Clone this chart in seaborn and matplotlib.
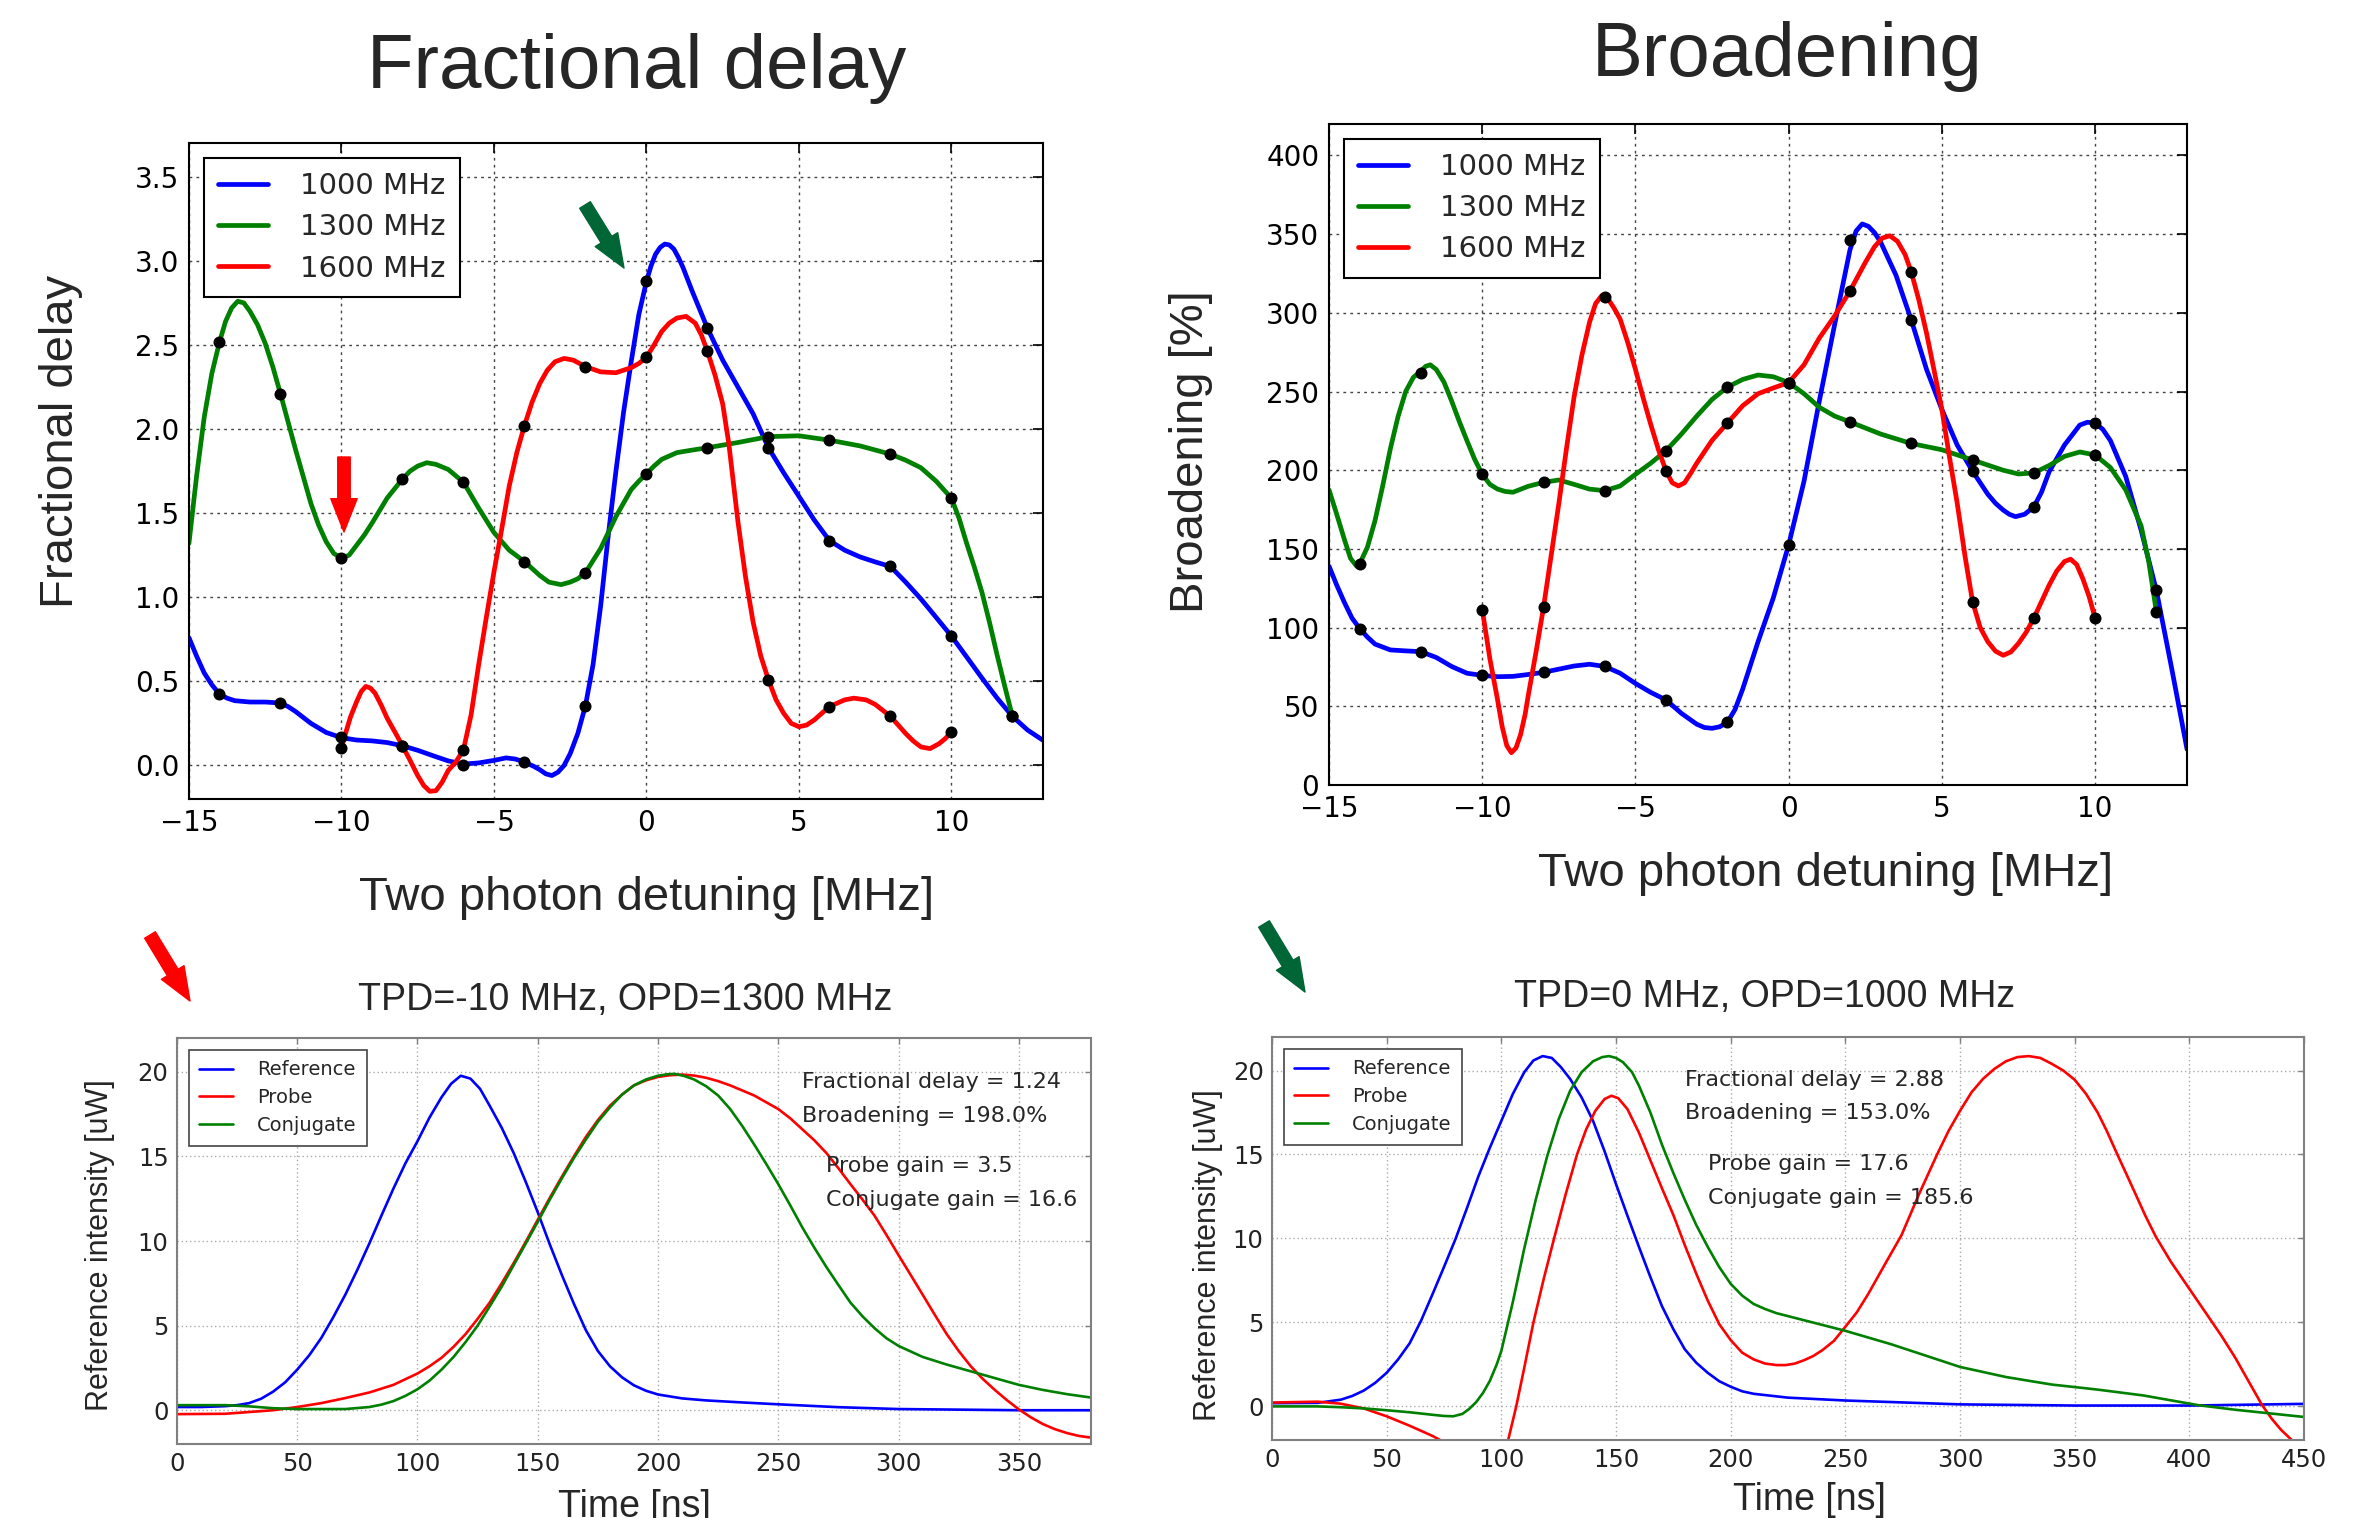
import matplotlib
matplotlib.use("Agg")
import matplotlib.pyplot as plt
import seaborn as sns

# ---- top panels: dots measured at even detunings [MHz]
tpd_even = [-14, -12, -10, -8, -6, -4, -2, 0, 2, 4, 6, 8, 10, 12]
tpd_red = [-10, -8, -6, -4, -2, 0, 2, 4, 6, 8, 10]

fd_dots_1000 = [0.424, 0.371, 0.17, 0.117, 0.005, 0.019, 0.355, 2.878, 2.60, 1.889, 1.337, 1.183, 0.769, 0.292]
fd_dots_1300 = [2.517, 2.21, 1.233, 1.703, 1.684, 1.212, 1.146, 1.735, 1.889, 1.955, 1.934, 1.851, 1.589, 0.292]
fd_dots_1600 = [0.106, 0.117, 0.093, 2.021, 2.371, 2.427, 2.462, 0.509, 0.350, 0.292, 0.199]

br_dots_1000 = [99.4, 84.7, 69.6, 71.6, 75.3, 54, 39.8, 152.6, 346, 295.5, 199.4, 176.7, 230, 123.6]
br_dots_1300 = [140.6, 262, 197.4, 192.3, 187, 212.5, 252.8, 255.7, 230.7, 217, 206.5, 198.3, 209.7, 110]
br_dots_1600 = [111.4, 113, 310.2, 199.4, 230, 255.7, 313.9, 326, 116.5, 106, 106]

# smooth curves, (detuning, value)
fd_curve_1000 = [(-15, 0.76), (-14.75, 0.65), (-14.5, 0.55), (-14.25, 0.48), (-14, 0.424), (-13.75, 0.40),
                 (-13.5, 0.385), (-13, 0.377), (-12.5, 0.377), (-12, 0.371), (-11.75, 0.35), (-11.5, 0.32),
                 (-11, 0.25), (-10.5, 0.196), (-10, 0.165), (-9.5, 0.151), (-9, 0.146), (-8.5, 0.136),
                 (-8, 0.117), (-7.5, 0.09), (-7, 0.058), (-6.5, 0.027), (-6, 0.008), (-5.5, 0.015),
                 (-5, 0.03), (-4.6, 0.045), (-4.3, 0.038), (-4, 0.02), (-3.7, -0.005), (-3.5, -0.025),
                 (-3.3, -0.05), (-3.1, -0.06), (-2.9, -0.04), (-2.7, 0.0), (-2.5, 0.07), (-2.25, 0.19),
                 (-2, 0.355), (-1.75, 0.6), (-1.5, 0.95), (-1.25, 1.37), (-1, 1.75), (-0.75, 2.1),
                 (-0.5, 2.4), (-0.25, 2.68), (0, 2.878), (0.15, 2.97), (0.3, 3.04), (0.45, 3.08),
                 (0.6, 3.10), (0.75, 3.095), (0.9, 3.07), (1.05, 3.02), (1.2, 2.96), (1.5, 2.82),
                 (1.75, 2.71), (2, 2.60), (2.5, 2.41), (3, 2.25), (3.5, 2.09), (4, 1.889), (4.5, 1.74),
                 (5, 1.6), (5.5, 1.46), (6, 1.337), (6.5, 1.28), (7, 1.24), (7.5, 1.21), (8, 1.183),
                 (8.5, 1.09), (9, 0.99), (9.5, 0.88), (10, 0.769), (10.5, 0.645), (11, 0.52),
                 (11.5, 0.40), (12, 0.292), (12.5, 0.21), (13, 0.15)]
fd_curve_1300 = [(-15, 1.32), (-14.75, 1.72), (-14.5, 2.07), (-14.25, 2.33), (-14, 2.517), (-13.8, 2.64),
                 (-13.6, 2.72), (-13.4, 2.76), (-13.2, 2.75), (-13, 2.70), (-12.75, 2.62), (-12.5, 2.51),
                 (-12.25, 2.37), (-12, 2.21), (-11.5, 1.875), (-11, 1.557), (-10.75, 1.43), (-10.5, 1.33),
                 (-10.25, 1.26), (-10, 1.233), (-9.75, 1.25), (-9.5, 1.31), (-9.25, 1.37), (-9, 1.44),
                 (-8.5, 1.59), (-8, 1.703), (-7.75, 1.75), (-7.5, 1.78), (-7.2, 1.80), (-6.9, 1.79),
                 (-6.5, 1.76), (-6, 1.684), (-5.5, 1.53), (-5, 1.385), (-4.5, 1.28), (-4, 1.212),
                 (-3.5, 1.13), (-3.2, 1.09), (-2.8, 1.075), (-2.5, 1.09), (-2.25, 1.11), (-2, 1.146),
                 (-1.5, 1.29), (-1, 1.48), (-0.5, 1.64), (-0.25, 1.69), (0, 1.735), (0.25, 1.78),
                 (0.5, 1.82), (1, 1.86), (1.5, 1.875), (2, 1.889), (3, 1.92), (4, 1.955), (5, 1.96),
                 (6, 1.934), (7, 1.90), (8, 1.851), (8.5, 1.815), (9, 1.77), (9.5, 1.69), (10, 1.589),
                 (10.25, 1.47), (10.5, 1.32), (10.75, 1.18), (11, 1.03), (11.25, 0.85), (11.5, 0.655),
                 (11.75, 0.47), (12, 0.292)]
fd_curve_1600 = [(-10, 0.106), (-9.85, 0.2), (-9.7, 0.29), (-9.5, 0.38), (-9.35, 0.44), (-9.2, 0.47),
                 (-9.05, 0.46), (-8.9, 0.43), (-8.7, 0.36), (-8.5, 0.28), (-8.25, 0.2), (-8, 0.117),
                 (-7.75, 0.03), (-7.5, -0.06), (-7.3, -0.12), (-7.1, -0.154), (-6.9, -0.15), (-6.7, -0.1),
                 (-6.5, -0.03), (-6.25, 0.02), (-6, 0.093), (-5.75, 0.3), (-5.5, 0.6), (-5.25, 0.88),
                 (-5, 1.15), (-4.75, 1.4), (-4.5, 1.66), (-4.25, 1.86), (-4, 2.021), (-3.75, 2.16),
                 (-3.5, 2.27), (-3.25, 2.35), (-3, 2.40), (-2.7, 2.42), (-2.4, 2.41), (-2, 2.371),
                 (-1.5, 2.34), (-1, 2.335), (-0.5, 2.365), (-0.25, 2.39), (0, 2.427), (0.25, 2.5),
                 (0.5, 2.58), (0.75, 2.63), (1, 2.66), (1.3, 2.67), (1.6, 2.63), (1.8, 2.56), (2, 2.462),
                 (2.25, 2.32), (2.5, 2.15), (2.7, 1.915), (3, 1.45), (3.25, 1.12), (3.5, 0.85),
                 (3.75, 0.65), (4, 0.509), (4.25, 0.39), (4.5, 0.31), (4.75, 0.25), (5, 0.23),
                 (5.25, 0.24), (5.5, 0.27), (6, 0.35), (6.5, 0.39), (6.8, 0.40), (7.2, 0.39),
                 (7.5, 0.363), (8, 0.292), (8.5, 0.19), (8.75, 0.145), (9, 0.11), (9.3, 0.10),
                 (9.6, 0.13), (9.8, 0.16), (10, 0.199)]

br_curve_1000 = [(-15, 139), (-14.75, 127), (-14.5, 116), (-14.25, 106), (-14, 99.4), (-13.75, 94),
                 (-13.5, 89.5), (-13, 85.8), (-12.5, 85.2), (-12, 84.7), (-11.5, 81), (-11, 75.3),
                 (-10.5, 71), (-10, 69.6), (-9.5, 68.8), (-9, 69), (-8.5, 70.2), (-8, 71.6), (-7, 75.6),
                 (-6.5, 76.7), (-6, 75.3), (-5.5, 71), (-5, 64.5), (-4.5, 58.8), (-4, 54), (-3.5, 45.5),
                 (-3, 38.6), (-2.75, 36.5), (-2.5, 36), (-2.25, 37), (-2, 39.8), (-1.75, 48), (-1.5, 61),
                 (-1, 91), (-0.5, 119), (0, 152.6), (0.5, 193), (1, 244), (1.5, 292.6), (2, 340),
                 (2.2, 352), (2.4, 356.5), (2.6, 355), (2.8, 351), (3, 345), (3.5, 324), (4, 295.5),
                 (4.5, 264), (5, 238.6), (5.5, 216), (6, 199.4), (6.5, 184.7), (6.75, 179),
                 (7, 174.7), (7.2, 172), (7.4, 170.5), (7.7, 172), (8, 176.7), (8.25, 186),
                 (8.5, 199), (9, 216), (9.5, 228.7), (9.75, 230.5), (10, 230), (10.25, 226),
                 (10.5, 218.8), (11, 196), (11.5, 162), (12, 123.6), (12.5, 74), (13, 22.7)]
br_curve_1300 = [(-15, 187.5), (-14.75, 172), (-14.5, 156), (-14.3, 144), (-14.1, 139), (-14, 140.6),
                 (-13.75, 151), (-13.5, 168), (-13.25, 190), (-13, 213.6), (-12.75, 234), (-12.5, 250),
                 (-12.25, 259), (-12, 263), (-11.85, 266), (-11.7, 267), (-11.5, 264), (-11.25, 256),
                 (-11, 244), (-10.75, 231), (-10.5, 218.8), (-10.25, 207), (-10, 197.4), (-9.75, 191),
                 (-9.5, 188), (-9.25, 186.5), (-9, 186), (-8.5, 189.8), (-8, 192.3), (-7.5, 193.8),
                 (-7, 191), (-6.5, 188), (-6, 187), (-5.5, 190), (-5, 197.4), (-4.5, 204.5),
                 (-4, 212.5), (-3.5, 223), (-3, 234.4), (-2.5, 245), (-2, 252.8), (-1.5, 257.7),
                 (-1, 260.5), (-0.5, 259.4), (0, 255.7), (0.5, 248.6), (1, 240), (1.5, 234.4),
                 (2, 230.7), (3, 223), (4, 217), (5, 213), (6, 206.5), (7, 200), (7.5, 197.6),
                 (8, 198.3), (8.5, 203), (9, 208.8), (9.5, 211.6), (10, 209.7), (10.5, 201.7),
                 (11, 187.5), (11.5, 164.8), (11.75, 142), (12, 110)]
br_curve_1600 = [(-10, 111.4), (-9.75, 80), (-9.5, 54), (-9.35, 37), (-9.2, 25), (-9.05, 20.5),
                 (-8.9, 23.5), (-8.75, 32), (-8.6, 45), (-8.5, 56.8), (-8.25, 84), (-8, 113),
                 (-7.75, 146), (-7.5, 179), (-7.25, 214), (-7, 247),
                 (-6.75, 273), (-6.5, 294), (-6.3, 306), (-6.1, 311), (-5.9, 309), (-5.7, 303),
                 (-5.5, 296), (-5.25, 281), (-5, 264), (-4.75, 246), (-4.5, 229), (-4.25, 213),
                 (-4, 199.4), (-3.8, 192), (-3.6, 190), (-3.4, 192), (-3.2, 198), (-3, 204.5),
                 (-2.5, 219), (-2, 230), (-1.5, 241), (-1, 248.6), (-0.5, 252.3), (0, 255.7), (0.5, 267),
                 (1, 284), (1.5, 298), (2, 313.9), (2.5, 332), (2.8, 342), (3.05, 347.5), (3.3, 349),
                 (3.55, 345.5), (3.8, 337), (4, 326), (4.25, 308), (4.5, 287), (4.75, 263), (5, 238.6),
                 (5.25, 208), (5.5, 179), (5.75, 146), (6, 116.5), (6.25, 100), (6.5, 91), (6.75, 85),
                 (7, 82.4), (7.25, 84.5), (7.5, 90), (7.75, 97), (8, 106), (8.5, 127), (8.75, 136),
                 (9, 142), (9.2, 143.5), (9.4, 140), (9.6, 131), (9.8, 120), (10, 106)]

# ---- bottom panels: pulses (time [ns], intensity [uW])
bl_reference = [(0, 0.19), (10, 0.19), (20, 0.24), (25, 0.3), (30, 0.42), (35, 0.68), (40, 1.1),
                (45, 1.65), (50, 2.4), (55, 3.25), (60, 4.27), (65, 5.5), (70, 6.83), (75, 8.3),
                (80, 9.86), (85, 11.5), (90, 13.1), (95, 14.6), (100, 15.9), (105, 17.3), (110, 18.5),
                (114, 19.3), (118, 19.77), (122, 19.6), (126, 19.0), (130, 18.0), (135, 16.7),
                (140, 15.2), (145, 13.5), (150, 11.7), (155, 9.8), (160, 8.0), (165, 6.3), (170, 4.73),
                (175, 3.5), (180, 2.6), (185, 1.95), (190, 1.47), (195, 1.15), (200, 0.93), (210, 0.7),
                (220, 0.58), (235, 0.46), (250, 0.35), (275, 0.18), (300, 0.07), (350, 0.0), (380, 0.0)]
bl_probe = [(0, -0.23), (20, -0.21), (40, 0.0), (50, 0.19), (60, 0.42), (70, 0.72), (80, 1.05),
            (90, 1.5), (100, 2.17), (105, 2.6), (110, 3.1), (115, 3.75), (120, 4.5), (125, 5.4),
            (130, 6.36), (135, 7.5), (140, 8.7), (145, 9.95), (150, 11.26), (155, 12.55), (160, 13.8),
            (165, 15.0), (170, 16.15), (175, 17.15), (180, 18.0), (185, 18.65), (190, 19.2),
            (195, 19.5), (200, 19.7), (205, 19.8), (210, 19.84), (215, 19.78), (220, 19.65),
            (225, 19.45), (230, 19.2), (235, 18.9), (240, 18.6), (245, 18.2), (250, 17.8),
            (255, 17.25), (260, 16.6), (265, 15.95), (270, 15.2), (275, 14.3), (280, 13.36),
            (285, 12.45), (290, 11.5), (295, 10.35), (300, 9.16), (305, 8.0), (310, 6.83),
            (315, 5.65), (320, 4.5), (325, 3.5), (330, 2.6), (335, 1.85), (340, 1.2), (345, 0.6),
            (350, 0.05), (355, -0.42), (360, -0.82), (365, -1.12), (370, -1.35), (375, -1.52),
            (380, -1.62)]
bl_conjugate = [(0, 0.3), (20, 0.3), (30, 0.23), (40, 0.12), (50, 0.07), (60, 0.07), (70, 0.07),
                (80, 0.19), (85, 0.33), (90, 0.54), (95, 0.85), (100, 1.24), (105, 1.75), (110, 2.4),
                (115, 3.15), (120, 4.03), (125, 5.0), (130, 6.13), (135, 7.3), (140, 8.58), (145, 9.85),
                (150, 11.14), (155, 12.45), (160, 13.7), (165, 14.9), (170, 16.0), (175, 17.05),
                (180, 17.9), (185, 18.65), (190, 19.2), (195, 19.55), (200, 19.77), (204, 19.86),
                (207, 19.88), (211, 19.75), (215, 19.55), (220, 19.15), (225, 18.6), (230, 17.8),
                (235, 16.8), (240, 15.7), (245, 14.55), (250, 13.36), (255, 12.1), (260, 10.8),
                (265, 9.6), (270, 8.46), (275, 7.4), (280, 6.36), (285, 5.55), (290, 4.85),
                (295, 4.25), (300, 3.8), (310, 3.15), (320, 2.7), (330, 2.3), (340, 1.9), (350, 1.5),
                (360, 1.2), (370, 0.95), (380, 0.75)]

br_reference = [(0, 0.19), (20, 0.21), (30, 0.4), (35, 0.62), (40, 0.94), (45, 1.4), (50, 2.0),
                (55, 2.8), (60, 3.75), (65, 5.1), (70, 6.68), (75, 8.3), (80, 9.96), (85, 11.8),
                (90, 13.7), (95, 15.4), (100, 17.0), (105, 18.6), (110, 19.9), (114, 20.6),
                (118, 20.86), (122, 20.75), (126, 20.2), (130, 19.5), (135, 18.4), (140, 17.0),
                (145, 15.2), (150, 13.24), (155, 11.35), (160, 9.5), (165, 7.7), (170, 5.98),
                (175, 4.6), (180, 3.4), (185, 2.6), (190, 2.0), (195, 1.5), (200, 1.17), (205, 0.9),
                (210, 0.75), (225, 0.52), (250, 0.35), (300, 0.12), (350, 0.05), (400, 0.05),
                (450, 0.15)]
br_probe = [(0, 0.23), (20, 0.28), (30, 0.16), (40, -0.12), (50, -0.59), (60, -1.15), (70, -1.76),
            (80, -2.5), (90, -3.4), (100, -3.4), (103, -2.0), (106.5, 0.0), (110, 2.3), (114, 5.0),
            (118.5, 7.6), (123, 10.0), (128, 12.6), (133, 15.0), (137, 16.5), (141, 17.6),
            (145, 18.3), (148, 18.5), (151, 18.35), (155, 17.7), (160, 16.3), (165, 14.65),
            (170, 13.0), (175, 11.4), (180, 9.6), (185, 7.9), (190, 6.3), (195, 4.9), (200, 3.95),
            (205, 3.2), (210, 2.8), (215, 2.55), (220, 2.46), (224, 2.46), (228, 2.55), (232, 2.75),
            (236, 3.0), (240, 3.35), (245, 3.9), (249, 4.57), (255, 5.6), (260, 6.7), (267, 8.4),
            (274.5, 10.2), (282, 12.6), (290, 15.0), (295, 16.4), (300, 17.6), (305, 18.7),
            (310, 19.5), (315, 20.1), (320, 20.55), (325, 20.8), (330, 20.86), (335, 20.75),
            (340, 20.4), (345, 20.0), (350, 19.45), (355, 18.6), (360, 17.5), (364, 16.4),
            (368.6, 15.0), (373, 13.7), (377, 12.5), (381, 11.3), (385.4, 10.1), (392, 8.6),
            (398, 7.4), (403, 6.4), (408, 5.4), (414, 4.2), (420, 2.9), (426, 1.45), (431.6, 0.1),
            (436, -0.75), (440, -1.4), (445, -2.05), (450, -2.6)]
br_conjugate = [(0, 0.0), (20, 0.0), (30, -0.05), (40, -0.12), (50, -0.23), (60, -0.35), (70, -0.5),
                (75, -0.57), (79, -0.59), (83, -0.45), (86, -0.15), (89, 0.25), (92, 0.8), (95, 1.52),
                (98, 2.5), (100, 3.3), (105, 6.2), (110, 9.4), (115, 12.3), (120, 14.9), (125, 17.1),
                (130, 18.8), (135, 19.9), (140, 20.55), (144, 20.8), (147, 20.86), (150, 20.75),
                (153, 20.5), (157, 19.9), (160, 19.1), (165, 17.5), (170, 15.6), (175, 13.9),
                (180, 12.3), (185, 10.8), (190, 9.5), (195, 8.3), (200, 7.3), (205, 6.6), (210, 6.1),
                (215, 5.8), (220, 5.55), (230, 5.2), (240, 4.85), (250, 4.5), (270, 3.7), (290, 2.8),
                (300, 2.35), (320, 1.75), (340, 1.3), (360, 1.0), (380, 0.65), (404, 0.07),
                (420, -0.2), (450, -0.63)]

bl_notes = [(260, 19.4, "Fractional delay = 1.24"), (260, 17.4, "Broadening = 198.0%"),
            (270, 14.45, "Probe gain = 3.5"), (270, 12.4, "Conjugate gain = 16.6")]
br_notes = [(180, 19.45, "Fractional delay = 2.88"), (180, 17.45, "Broadening = 153.0%"),
            (190, 14.45, "Probe gain = 17.6"), (190, 12.4, "Conjugate gain = 185.6")]

BLUE, GREEN, RED = "#0000ff", "#008000", "#ff0000"
ARROW_RED, ARROW_GREEN = "#ff0000", "#006636"
LABEL_FONT = "Liberation Sans"

sns.set_style("white")
plt.rcParams["font.family"] = ["DejaVu Sans"]
plt.rcParams["lines.solid_joinstyle"] = "round"


def unzip(pts):
    return [p[0] for p in pts], [p[1] for p in pts]


def top_panel(ax, curves, dots, ylim, yticks, ylabel, ylabel_xy, xlabel_xy):
    for label, color, pts in curves:
        x, y = unzip(pts)
        sns.lineplot(x=x, y=y, ax=ax, color=color, lw=3.4, label=label,
                     sort=False, estimator=None)
    for xs, ys in dots:
        sns.scatterplot(x=xs, y=ys, ax=ax, color="black", s=75, linewidth=0,
                        legend=False, zorder=5)
    ax.set_xlim(-15, 13)
    ax.set_ylim(*ylim)
    ax.set_xticks([-15, -10, -5, 0, 5, 10])
    ax.set_yticks(yticks)
    ax.grid(True, color="#444444", linestyle=(0, (2, 3)), lw=1.0)
    for s in ax.spines.values():
        s.set_color("black")
        s.set_linewidth(1.5)
    ax.tick_params(direction="in", length=7, width=1.2, top=True, right=True,
                   labelsize=20, pad=7, colors="black")
    ax.set_ylabel(ylabel, fontsize=34, family=LABEL_FONT)
    ax.yaxis.set_label_coords(*ylabel_xy)
    ax.set_xlabel("Two photon detuning [MHz]", fontsize=34, family=LABEL_FONT)
    ax.xaxis.set_label_coords(*xlabel_xy)
    leg = ax.legend(loc="upper left", fontsize=21, fancybox=False, edgecolor="black",
                    framealpha=1, borderaxespad=0.5, handlelength=1.7,
                    handletextpad=1.1, borderpad=0.5, labelspacing=0.45)
    leg.get_frame().set_linewidth(1.5)


def bottom_panel(ax, traces, notes, xmax, xticks, ylabel_xy, xlabel_xy):
    for label, color, pts in traces:
        x, y = unzip(pts)
        sns.lineplot(x=x, y=y, ax=ax, color=color, lw=1.9, label=label,
                     sort=False, estimator=None)
    ax.set_xlim(0, xmax)
    ax.set_ylim(-2, 22)
    ax.set_xticks(xticks)
    ax.set_yticks([0, 5, 10, 15, 20])
    ax.grid(True, color="#aaaaaa", linestyle=(0, (1, 2)), lw=1.0)
    for s in ax.spines.values():
        s.set_color("#808080")
        s.set_linewidth(1.5)
    ax.tick_params(direction="in", length=4, width=1, color="#808080", top=True, right=True,
                   labelsize=17.5, pad=6, labelcolor="#222222")
    for x, y, t in notes:
        ax.text(x, y, t, fontsize=16, ha="left", va="center")
    ax.set_ylabel("Reference intensity [uW]", fontsize=22, family=LABEL_FONT)
    ax.yaxis.set_label_coords(*ylabel_xy)
    ax.set_xlabel("Time [ns]", fontsize=27, family=LABEL_FONT)
    ax.xaxis.set_label_coords(*xlabel_xy)
    leg = ax.legend(loc="upper left", fontsize=14, fancybox=False, edgecolor="#444444",
                    framealpha=1, borderaxespad=0.6, handlelength=1.75,
                    handletextpad=1.2, borderpad=0.55, labelspacing=0.45)
    leg.get_frame().set_linewidth(1.2)


fig = plt.figure(figsize=(23.59, 15.18), dpi=100)
ax_fd = fig.add_axes([0.0801, 0.4736, 0.3620, 0.4321])
ax_br = fig.add_axes([0.5634, 0.4829, 0.3637, 0.4354])
ax_bl = fig.add_axes([0.0750, 0.0487, 0.3875, 0.2675])
ax_brt = fig.add_axes([0.5392, 0.0514, 0.4375, 0.2655])

top_panel(ax_fd,
          [("1000 MHz", BLUE, fd_curve_1000), ("1300 MHz", GREEN, fd_curve_1300),
           ("1600 MHz", RED, fd_curve_1600)],
          [(tpd_even, fd_dots_1000), (tpd_even, fd_dots_1300), (tpd_red, fd_dots_1600)],
          (-0.2, 3.7), [0.0, 0.5, 1.0, 1.5, 2.0, 2.5, 3.0, 3.5],
          "Fractional delay", (-0.124, 0.546), (0.536, -0.118))
top_panel(ax_br,
          [("1000 MHz", BLUE, br_curve_1000), ("1300 MHz", GREEN, br_curve_1300),
           ("1600 MHz", RED, br_curve_1600)],
          [(tpd_even, br_dots_1000), (tpd_even, br_dots_1300), (tpd_red, br_dots_1600)],
          (0, 420), [0, 50, 100, 150, 200, 250, 300, 350, 400],
          "Broadening [%]", (-0.135, 0.505), (0.579, -0.102))

bottom_panel(ax_bl,
             [("Reference", BLUE, bl_reference), ("Probe", RED, bl_probe),
              ("Conjugate", GREEN, bl_conjugate)],
             bl_notes, 380, [0, 50, 100, 150, 200, 250, 300, 350],
             (-0.068, 0.49), (0.501, -0.111))
bottom_panel(ax_brt,
             [("Reference", BLUE, br_reference), ("Probe", RED, br_probe),
              ("Conjugate", GREEN, br_conjugate)],
             br_notes, 450, [0, 50, 100, 150, 200, 250, 300, 350, 400, 450],
             (-0.047, 0.459), (0.521, -0.104))

# panel titles
fig.text(0.270, 0.955, "Fractional delay", fontsize=55, family=LABEL_FONT, ha="center", va="center")
fig.text(0.7575, 0.9625, "Broadening", fontsize=55, family=LABEL_FONT, ha="center", va="center")
fig.text(0.265, 0.341, "TPD=-10 MHz, OPD=1300 MHz", fontsize=27, family=LABEL_FONT,
         ha="center", va="center")
fig.text(0.748, 0.343, "TPD=0 MHz, OPD=1000 MHz", fontsize=27, family=LABEL_FONT,
         ha="center", va="center")

# pointer arrows, in figure pixels (origin bottom-left)
H = 1518
arrows = [((344, 457), (344, 532), ARROW_RED), ((585, 205), (624, 268), ARROW_GREEN),
          ((1520, 379), (1492, 449), ARROW_RED), ((1856, 618), (1807, 562), ARROW_GREEN),
          ((150, 935), (190, 1001), ARROW_RED), ((1264, 924), (1305, 992), ARROW_GREEN)]
for (tx, ty), (hx, hy), c in arrows:
    ax_fd.annotate("", xy=(hx, H - hy), xytext=(tx, H - ty), xycoords="figure pixels",
                   textcoords="figure pixels", annotation_clip=False,
                   arrowprops=dict(facecolor=c, edgecolor=c, width=9, headwidth=19,
                                   headlength=24, shrink=0))

fig.savefig("out.png", dpi=100)
